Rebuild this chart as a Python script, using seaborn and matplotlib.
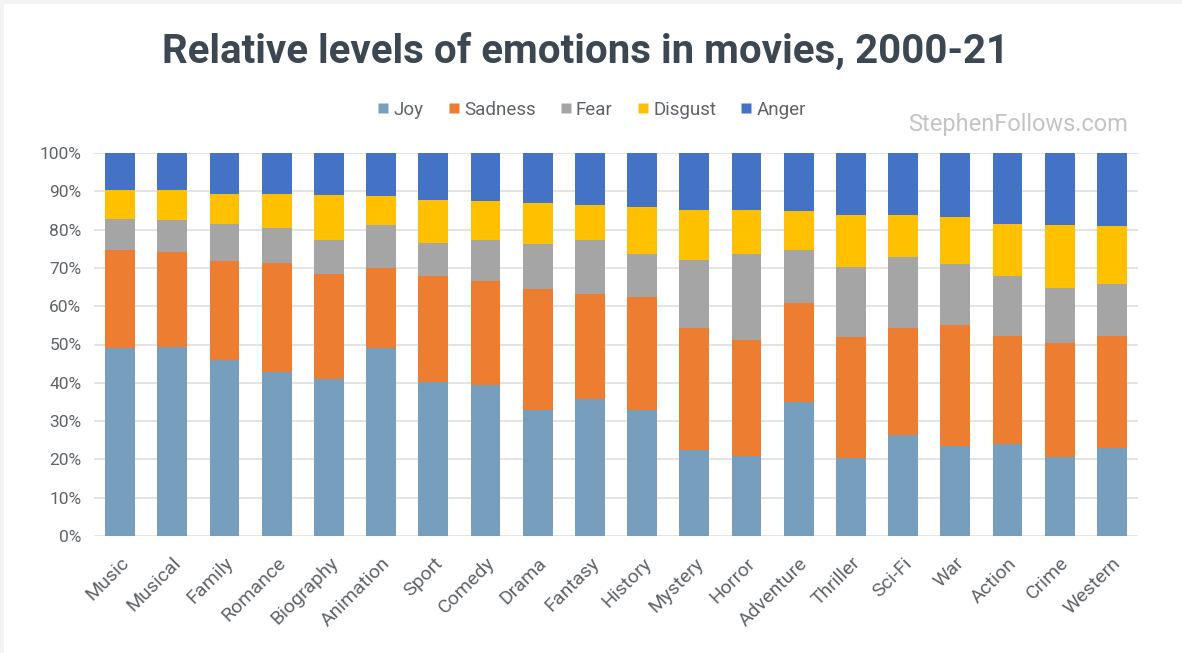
import matplotlib
matplotlib.use("Agg")
import matplotlib.pyplot as plt
import seaborn as sns
import pandas as pd
import numpy as np
from matplotlib.lines import Line2D
from matplotlib.patches import Rectangle

genres = ["Music", "Musical", "Family", "Romance", "Biography", "Animation", "Sport",
          "Comedy", "Drama", "Fantasy", "History", "Mystery", "Horror", "Adventure",
          "Thriller", "Sci-Fi", "War", "Action", "Crime", "Western"]
joy     = [49.0, 49.4, 45.9, 42.7, 41.0, 49.2, 40.1, 39.5, 32.9, 35.7, 32.9, 22.4, 21.0, 34.9, 20.4, 26.5, 23.5, 24.0, 20.7, 22.9]
sadness = [25.6, 24.8, 25.8, 28.6, 27.3, 20.8, 27.7, 27.0, 31.5, 27.4, 29.4, 31.9, 30.3, 26.0, 31.6, 27.9, 31.5, 28.2, 29.7, 29.3]
fear    = [8.1, 8.2, 9.7, 9.1, 9.1, 11.3, 8.8, 10.9, 11.8, 14.3, 11.4, 17.7, 22.2, 13.7, 18.3, 18.5, 16.0, 15.6, 14.4, 13.5]
disgust = [7.7, 8.0, 8.0, 8.9, 11.6, 7.5, 11.1, 10.0, 10.8, 8.9, 12.2, 13.2, 11.5, 10.3, 13.4, 10.8, 12.3, 13.6, 16.5, 15.3]
anger   = [9.6, 9.6, 10.6, 10.7, 11.0, 11.2, 12.3, 12.6, 13.0, 13.7, 14.1, 14.8, 15.0, 15.1, 16.3, 16.3, 16.7, 18.6, 18.7, 19.0]

series_names = ["Joy", "Sadness", "Fear", "Disgust", "Anger"]
series_vals = [joy, sadness, fear, disgust, anger]
colors = ["#779ebd", "#ed7d31", "#a5a5a5", "#ffc000", "#4472c4"]
yticks = [0, 10, 20, 30, 40, 50, 60, 70, 80, 90, 100]
ytick_labels = [f"{v}%" for v in yticks]

sns.set_theme(style="white")
plt.rcParams["font.family"] = ["Roboto", "DejaVu Sans"]

df = pd.DataFrame({"genre": genres})
cum = np.zeros(len(genres))
for name, vals in zip(series_names, series_vals):
    cum = cum + np.array(vals)
    df[name] = cum

fig = plt.figure(figsize=(11.82, 6.53), dpi=100)
fig.patch.set_facecolor("#f3f3f3")
fig.patches.append(Rectangle((4 / 1182, 0), 1, 1 - 4 / 653, transform=fig.transFigure,
                             facecolor="white", edgecolor="none", zorder=-10))

ax = fig.add_axes([94 / 1182, (653 - 536) / 653, 1044 / 1182, 383 / 653])
ax.set_facecolor("none")
ax.set_zorder(5)

for name, color in reversed(list(zip(series_names, colors))):
    sns.barplot(data=df, x="genre", y=name, order=genres, color=color,
                width=0.57, ax=ax, saturation=1, zorder=3, linewidth=0)

ax.set_ylim(0, 100)
ax.set_xlim(-0.5, len(genres) - 0.5)
ax.set_yticks(yticks)
ax.set_yticklabels(ytick_labels)
ax.set_xlabel("")
ax.set_ylabel("")
ax.yaxis.grid(True, color="#dcdcdc", linewidth=1.1, zorder=0)
ax.set_axisbelow(True)
for s in ax.spines.values():
    s.set_visible(False)
ax.tick_params(axis="y", length=0, pad=9, labelsize=12.5, labelcolor="#5f6368")
ax.tick_params(axis="x", length=0, pad=13, labelsize=14, labelcolor="#5f6368")
for lab in ax.get_xticklabels():
    lab.set_rotation(45)
    lab.set_ha("right")
    lab.set_rotation_mode("anchor")

fig.text(586 / 1182, 1 - 52 / 653, "Relative levels of emotions in movies, 2000-21",
         ha="center", va="center", fontsize=29, fontweight="bold", color="#3d4752")

handles = [Line2D([0], [0], marker="s", linestyle="none", markersize=7.5,
                  markerfacecolor=c, markeredgecolor="none") for c in colors]
fig.legend(handles, series_names, loc="center", bbox_to_anchor=(590 / 1182, 1 - 110 / 653),
           ncol=5, frameon=False, fontsize=13.5, labelcolor="#5f6368",
           handletextpad=0.05, columnspacing=1.1, handlelength=1.0)

fig.text(1128 / 1182, 1 - 125 / 653, "StephenFollows.com", ha="right", va="center",
         fontsize=17, color="#c4c4c4")

fig.savefig("out.png", dpi=100)
